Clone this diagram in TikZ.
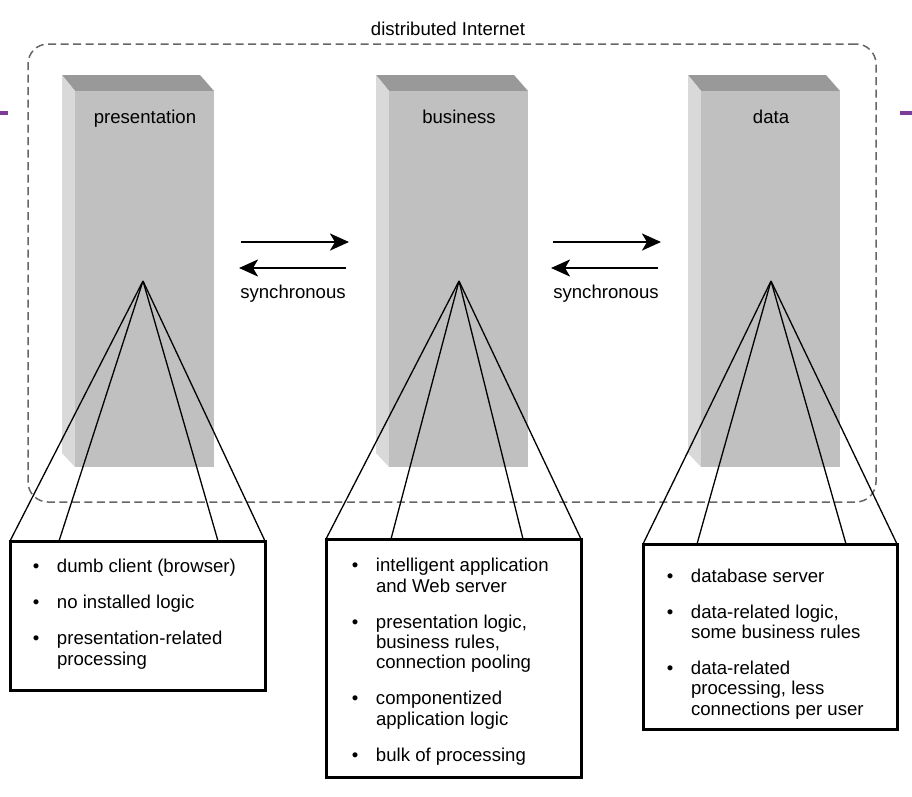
\documentclass[tikz,border=0pt]{standalone}
\usepackage{fontspec}
\setmainfont{Liberation Sans}
\usetikzlibrary{arrows.meta}
\definecolor{frontgray}{HTML}{C0C0C0}
\definecolor{topgray}{HTML}{999999}
\definecolor{sidegray}{HTML}{D9D9D9}
\definecolor{dashgray}{HTML}{666666}
\definecolor{purplemark}{HTML}{7D3C98}
\newcommand\mypillar[1]{%
  \fill[topgray] (#1,75) -- ++(138,0) -- ++(14,16) -- ++(-139,0) -- cycle;
  \fill[sidegray] (#1,75) -- ++(13,16) -- ++(0,376) -- ++(-13,-14) -- cycle;
  \fill[frontgray] (#1+13,91) rectangle ++(139,376);}
\newcommand\bul{\leavevmode\makebox[0pt][r]{\textbullet\hspace{17.5pt}}}
\tikzset{
  lbl/.style={inner sep=0pt, outer sep=0pt, anchor=base},
  listtext/.style={inner sep=0pt, outer sep=0pt, anchor=base west, align=left},
  infobox/.style={draw=black, line width=3pt, fill=white, inner sep=0pt, outer sep=0pt, anchor=north west},
  fan/.style={draw=black, line width=1.3pt},
  syncarrow/.style={draw=black, line width=2.5pt, -{Stealth[length=19pt,width=17pt,inset=5pt]}},
  inet/.style={draw=dashgray, line width=1.5pt, dash pattern=on 8pt off 4.5pt, rounded corners=20pt, inner sep=0pt, outer sep=0pt, anchor=north west},
  purpletick/.style={draw=purplemark, line width=3.5pt}
}
\begin{document}
\begin{tikzpicture}[x=1pt, y=-1pt, font=\fontsize{18.6}{20.3}\selectfont]
\useasboundingbox (0,0) rectangle (912,796);
\fill[white] (0,0) rectangle (912,796);

% purple marks
\coordinate (ml1) at (0,113); \coordinate (ml2) at (8,113);
\coordinate (mr1) at (900,113); \coordinate (mr2) at (912,113);
\draw[purpletick] (ml1) -- (ml2);
\draw[purpletick] (mr1) -- (mr2);

% distributed Internet region
\node[inet, minimum width=848pt, minimum height=458pt] (internet) at (28,44) {};
\node[lbl] (title) at (448,35) {distributed Internet};

% pillars
\mypillar{62}
\mypillar{376}
\mypillar{688}
\node[lbl] (ptier) at (145,123) {presentation};
\node[lbl] (btier) at (459,123) {business};
\node[lbl] (dtier) at (771,123) {data};

% synchronous arrows
\coordinate (s1a) at (241,242); \coordinate (s1b) at (349,242);
\coordinate (s1c) at (346,268); \coordinate (s1d) at (239,268);
\draw[syncarrow] (s1a) -- (s1b);
\draw[syncarrow] (s1c) -- (s1d);
\node[lbl] (sync1) at (293,298) {synchronous};
\coordinate (s2a) at (553,242); \coordinate (s2b) at (661,242);
\coordinate (s2c) at (658,268); \coordinate (s2d) at (551,268);
\draw[syncarrow] (s2a) -- (s2b);
\draw[syncarrow] (s2c) -- (s2d);
\node[lbl] (sync2) at (606,298) {synchronous};

% boxes
\node[infobox, minimum width=255pt, minimum height=149pt] (box1) at (10,541) {};
\node[infobox, minimum width=255pt, minimum height=238pt] (box2) at (326,539) {};
\node[infobox, minimum width=254pt, minimum height=185pt] (box3) at (643,544) {};

% fan lines
\coordinate (ap1) at (143,281);
\coordinate (ap2) at (459,281);
\coordinate (ap3) at (771,281);
\draw[fan] (ap1) -- (box1.north west);
\draw[fan] (ap1) -- ([xshift=49pt]box1.north west);
\draw[fan] (ap1) -- ([xshift=208pt]box1.north west);
\draw[fan] (ap1) -- (box1.north east);
\draw[fan] (ap2) -- (box2.north west);
\draw[fan] (ap2) -- ([xshift=65pt]box2.north west);
\draw[fan] (ap2) -- ([xshift=197pt]box2.north west);
\draw[fan] (ap2) -- (box2.north east);
\draw[fan] (ap3) -- (box3.north west);
\draw[fan] (ap3) -- ([xshift=54pt]box3.north west);
\draw[fan] (ap3) -- ([xshift=203pt]box3.north west);
\draw[fan] (ap3) -- (box3.north east);

% box texts (base anchor = baseline of the last line)
\node[listtext] (t1) at (57,665) {\bul dumb client (browser)\\[15.7pt]
\bul no installed logic\\[15.7pt]
\bul presentation-related\\processing};
\node[listtext] (t2) at (376,761) {\bul intelligent application\\and Web server\\[15.7pt]
\bul presentation logic,\\business rules,\\connection pooling\\[15.7pt]
\bul componentized\\application logic\\[15.7pt]
\bul bulk of processing};
\node[listtext] (t3) at (691,715) {\bul database server\\[15.7pt]
\bul data-related logic,\\some business rules\\[15.7pt]
\bul data-related\\processing, less\\connections per user};
\end{tikzpicture}
\end{document}
